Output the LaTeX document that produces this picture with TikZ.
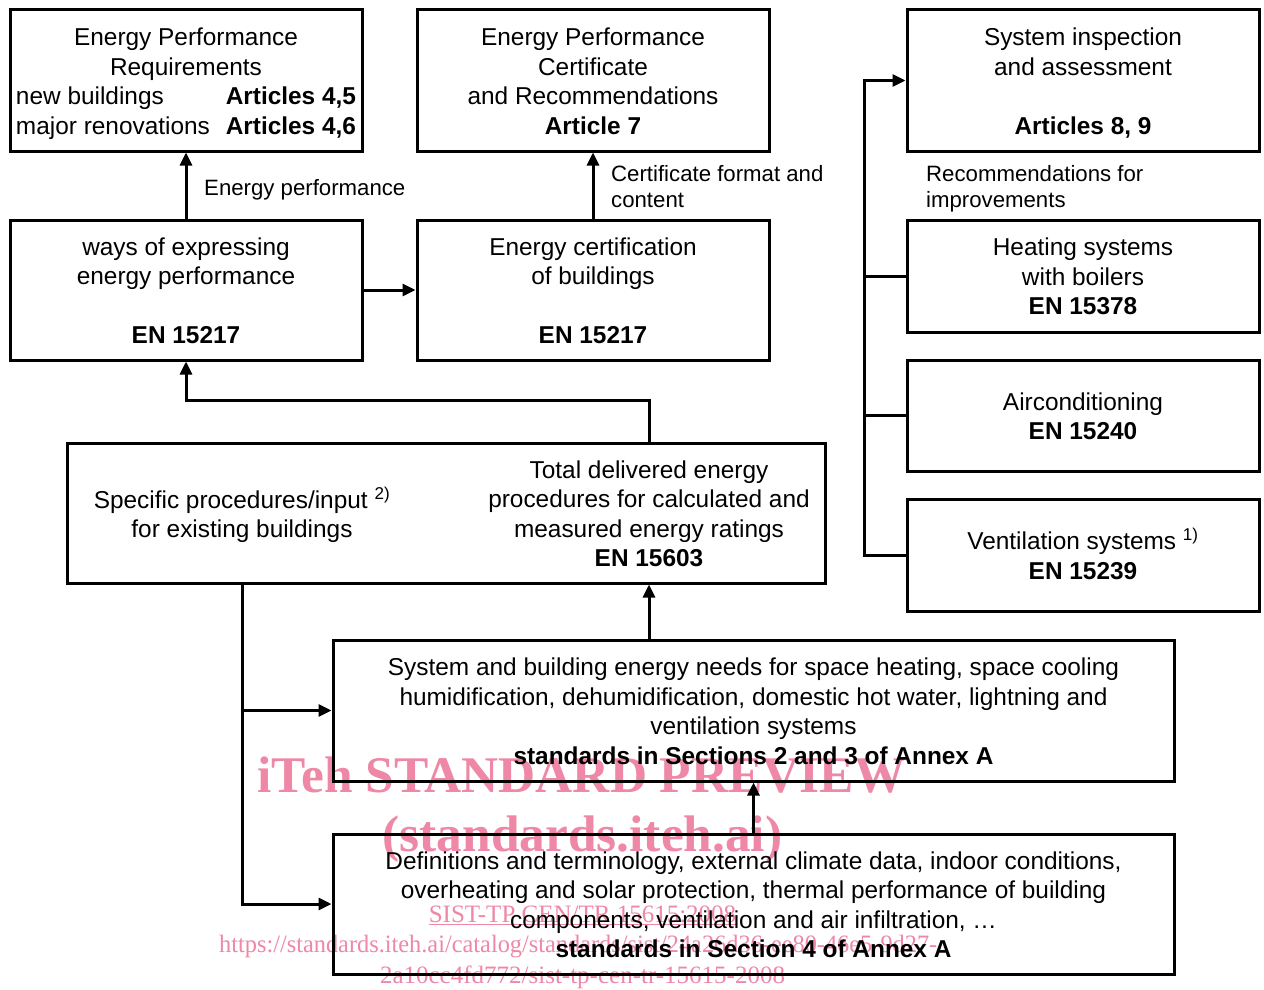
\documentclass[tikz,border=0pt]{standalone}
\usepackage{fontspec}
\setmainfont{Liberation Sans}
\newfontfamily\wmfont{Liberation Serif}
\usetikzlibrary{arrows.meta}
\definecolor{wm}{RGB}{238,136,166}
\begin{document}
\begin{tikzpicture}[x=1pt,y=-1pt,
 frame/.style={draw,line width=3pt,inner sep=0pt},
 txt/.style={inner sep=0pt,align=center,font=\fontsize{24.4}{29.5}\selectfont,yshift=-3.6pt,
   execute at begin node={\rule{0pt}{25.7pt}}, execute at end node={\rule[-6pt]{0pt}{0pt}}},
 lbl/.style={inner sep=0pt,align=left,anchor=west,font=\fontsize{22.2}{26}\selectfont},
 conn/.style={line width=3pt},
 arr/.style={line width=3pt,-{Triangle[length=13pt,width=12pt]}},
 wmbig/.style={text=wm,inner sep=0pt,anchor=base,font=\wmfont\bfseries\fontsize{51.4}{51}\selectfont},
 wmsmall/.style={text=wm,inner sep=0pt,anchor=base,font=\wmfont\fontsize{25}{25}\selectfont}
]
\useasboundingbox (0,0) rectangle (1264,990);
\fill[white] (0,0) rectangle (1264,990);

% watermark (behind)
\node[wmbig] (wm1) at (581.5,792) {iTeh STANDARD PREVIEW};
\node[wmbig] (wm2) at (582.5,851) {(standards.iteh.ai)};
\node[wmsmall] (wm3) at (582.5,922) {\underline{SIST-TP CEN/TR 15615:2008}};
\node[wmsmall,anchor=base west] (wm4) at (219,952) {\resizebox{718pt}{\height}{https://standards.iteh.ai/catalog/standards/sist/24a26d36-ee80-46e5-9d27-}};
\node[wmsmall] (wm5) at (582.5,983) {2a10cc4fd772/sist-tp-cen-tr-15615-2008};

% box frames
\node[frame,minimum width=352pt,minimum height=141pt] (epr) at (186,80.5) {};
\node[frame,minimum width=352pt,minimum height=141pt] (epc) at (593,80.5) {};
\node[frame,minimum width=352pt,minimum height=141pt] (sia) at (1083,80.5) {};
\node[frame,minimum width=352pt,minimum height=140pt] (ways) at (186,290) {};
\node[frame,minimum width=352pt,minimum height=140pt] (cert) at (593,290) {};
\node[frame,minimum width=352pt,minimum height=112pt] (heat) at (1083,276) {};
\node[frame,minimum width=352pt,minimum height=111pt] (air) at (1083,415.5) {};
\node[frame,minimum width=352pt,minimum height=112pt] (vent) at (1083,555) {};
\node[frame,minimum width=758pt,minimum height=140pt] (total) at (446,513) {};
\node[frame,minimum width=841pt,minimum height=141pt] (sys) at (753.5,710.5) {};
\node[frame,minimum width=841pt,minimum height=140pt] (def) at (753.5,904) {};

% box texts
\node[txt] (epr-t) at (epr.center)
 {Energy Performance\\Requirements\\
  \makebox[340pt]{new buildings\hfill\textbf{Articles 4,5}}\\
  \makebox[340pt]{major renovations\hfill\textbf{Articles 4,6}}};
\node[txt] (epc-t) at (epc.center)
 {Energy Performance\\Certificate\\and Recommendations\\\textbf{Article 7}};
\node[txt] (sia-t) at (sia.center)
 {System inspection\\and assessment\\[29.5pt]\textbf{Articles 8, 9}};
\node[txt] (ways-t) at (ways.center)
 {ways of expressing\\energy performance\\[29.5pt]\textbf{EN 15217}};
\node[txt] (cert-t) at (cert.center)
 {Energy certification\\of buildings\\[29.5pt]\textbf{EN 15217}};
\node[txt] (heat-t) at (heat.center)
 {Heating systems\\with boilers\\\textbf{EN 15378}};
\node[txt] (air-t) at (air.center)
 {Airconditioning\\\textbf{EN 15240}};
\node[txt,yshift=1.6pt] (vent-t) at (vent.center)
 {Ventilation systems \textsuperscript{1)}\\\textbf{EN 15239}};
\node[txt] (totL) at (242,511.8) {Specific procedures/input \textsuperscript{2)}\\for existing buildings};
\node[txt] (totR) at (649,513) {Total delivered energy\\procedures for calculated and\\measured energy ratings\\\textbf{EN 15603}};
\node[txt] (sys-t) at (sys.center)
 {System and building energy needs for space heating, space cooling\\
  humidification, dehumidification, domestic hot water, lightning and\\
  ventilation systems\\
  \textbf{standards in Sections 2 and 3 of Annex A}};
\node[txt] (def-t) at (def.center)
 {Definitions and terminology, external climate data, indoor conditions,\\
  overheating and solar protection, thermal performance of building\\
  components, ventilation and air infiltration, \dots\\
  \textbf{standards in Section 4 of Annex A}};

% labels
\node[lbl] (lep) at (204,190) {Energy performance};
\node[lbl] (lcf) at (611,187) {Certificate format and\\content};
\node[lbl] (lrec) at (926,189) {Recommendations for\\improvements};

% connectors
\draw[arr] (ways.north) -- (epr.south);
\draw[arr] (cert.north) -- (epc.south);
\draw[arr] (ways.east) -- (cert.west);
\draw[arr] (totR |- total.north) -- ++(0,-41) -| (ways.south);
\draw[arr] (totR |- sys.north) -- (totR |- total.south);
\draw[arr] (def.north) -- (sys.south);
\draw[arr] (totL |- total.south) |- (def.west);
\draw[arr] (totL |- sys.west) -- (sys.west);
\coordinate (busR) at (864,80.5);
\draw[arr] (vent.west) -| (busR) -- (sia.west);
\draw[conn] (busR |- heat.west) -- (heat.west);
\draw[conn] (busR |- air.west) -- (air.west);
\end{tikzpicture}
\end{document}
